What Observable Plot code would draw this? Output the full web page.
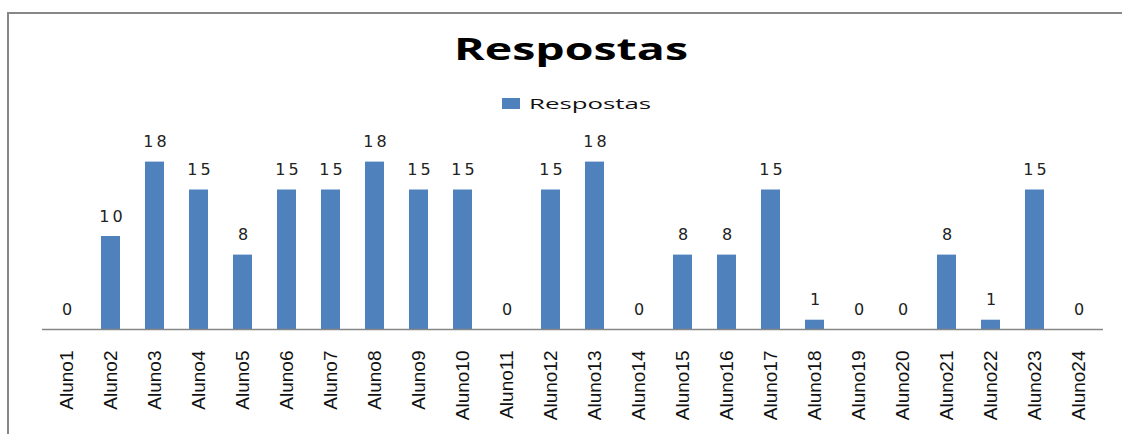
<!DOCTYPE html>
<html>
<head>
<meta charset="utf-8">
<script src="https://cdn.jsdelivr.net/npm/d3@7"></script>
<script src="https://cdn.jsdelivr.net/npm/@observablehq/plot@0.6"></script>
<style>
  html, body { margin: 0; padding: 0; background: #fff; overflow: hidden; }
  #wrap { position: relative; width: 1122px; height: 434px; overflow: hidden; }
  #frame { position: absolute; left: 7px; top: 12px; width: 1200px; height: 600px; border: 2px solid #878787; box-sizing: border-box; }
  #title { position: absolute; left: 10px; top: 27px; width: 1122px; text-align: center; font-family: "Open Sans", sans-serif; font-weight: 700; font-size: 31px; line-height: 42px; color: #000; }
  #title span { display: inline-block; transform: scaleX(1.5); transform-origin: 50% 50%; }
  #legend { position: absolute; left: 502px; top: 92px; height: 22px; display: flex; align-items: center; }
  #legend .sw { width: 18px; height: 11px; background: #4f81bd; margin-right: 9px; }
  #legend .lab { font-family: "Open Sans", sans-serif; font-size: 15px; color: #111; display: inline-block; transform: scaleX(1.72); transform-origin: 0 50%; }
  #chart { position: absolute; left: 0; top: 0; }
  #chart g[aria-label="text"] text { letter-spacing: 3px; }
</style>
</head>
<body>
<div id="wrap">
  <div id="frame"></div>
  <div id="chart"></div>
  <div id="title"><span>Respostas</span></div>
  <div id="legend"><div class="sw"></div><span class="lab">Respostas</span></div>
</div>
<script>
const students = ["Aluno1","Aluno2","Aluno3","Aluno4","Aluno5","Aluno6","Aluno7","Aluno8","Aluno9","Aluno10","Aluno11","Aluno12","Aluno13","Aluno14","Aluno15","Aluno16","Aluno17","Aluno18","Aluno19","Aluno20","Aluno21","Aluno22","Aluno23","Aluno24"];
const responses = [0,10,18,15,8,15,15,18,15,15,0,15,18,0,8,8,15,1,0,0,8,1,15,0];
const seriesName = "Respostas";

const data = students.map((s, i) => ({aluno: s, respostas: responses[i]}));

const chart = Plot.plot({
  width: 1122,
  height: 434,
  marginLeft: 42,
  marginRight: 19,
  marginTop: 143,
  marginBottom: 105,
  style: {background: "transparent", overflow: "visible"},
  x: {domain: students, paddingInner: 0.56, paddingOuter: 0.28, axis: null},
  y: {domain: [0, 20], axis: null},
  marks: [
    Plot.barY(data, {x: "aluno", y: "respostas", fill: "#4f81bd", title: d => `${seriesName}: ${d.respostas}`}),
    Plot.ruleY([0], {stroke: "#868686", strokeWidth: 1.5}),
    Plot.text(data, {x: "aluno", y: "respostas", text: d => String(d.respostas), dx: 1.5, dy: -20, fontSize: 16, fontFamily: "'DejaVu Sans', sans-serif", fill: "#222"}),
    Plot.axisX({tickRotate: -90, tickSize: 0, tickPadding: 21, fontSize: 19, fontFamily: "'Liberation Sans', Arial, sans-serif", fill: "#111", label: null})
  ]
});
document.getElementById("chart").appendChild(chart);
</script>
</body>
</html>
